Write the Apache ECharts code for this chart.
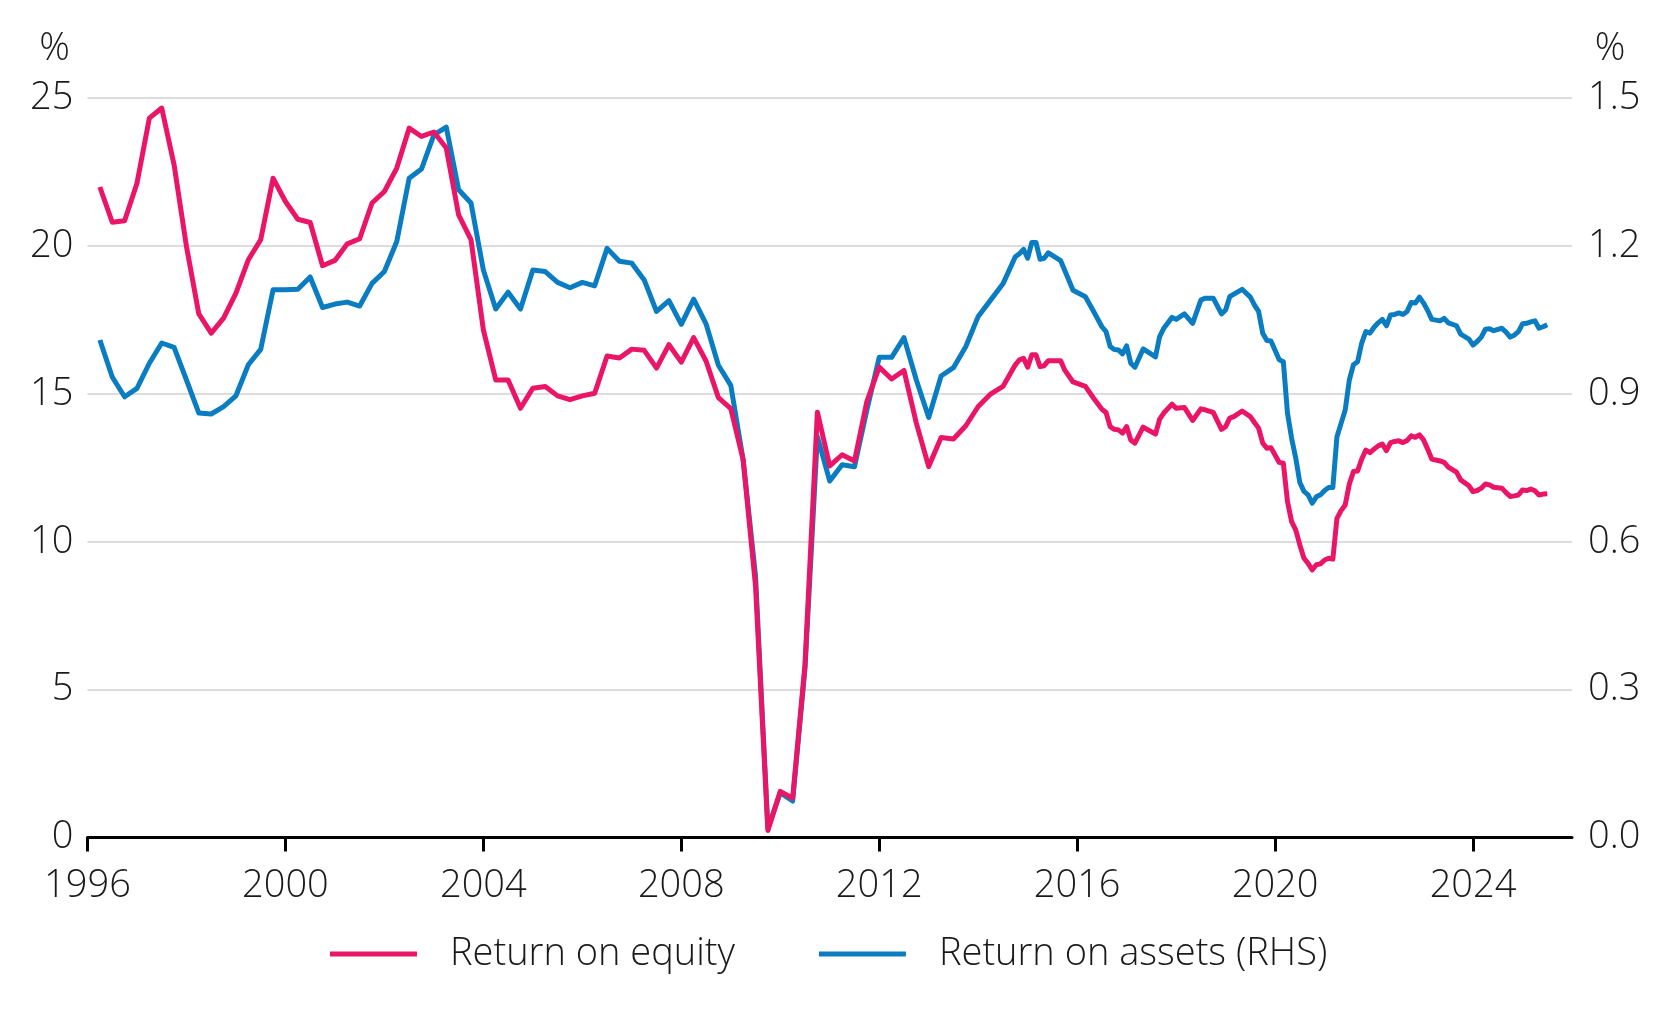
<!DOCTYPE html>
<html>
<head>
<meta charset="utf-8">
<script src="https://cdn.jsdelivr.net/npm/echarts@6/dist/echarts.min.js"></script>
<style>
html,body{margin:0;padding:0;background:#fff;}
#chart{width:1673px;height:1021px;}
</style>
</head>
<body>
<div id="chart"></div>
<script>
// ---------- DATA ----------
const xTickYears = [1996, 2000, 2004, 2008, 2012, 2016, 2020, 2024];
const leftAxisMax = 25, leftAxisStep = 5;
const rightAxisMax = 1.5, rightAxisStep = 0.3;
const seriesNames = ['Return on equity', 'Return on assets (RHS)'];

const dates = [
  '1996-03','1996-06','1996-09','1996-12',
  '1997-03','1997-06','1997-09','1997-12',
  '1998-03','1998-06','1998-09','1998-12',
  '1999-03','1999-06','1999-09','1999-12',
  '2000-03','2000-06','2000-09','2000-12',
  '2001-03','2001-06','2001-09','2001-12',
  '2002-03','2002-06','2002-09','2002-12',
  '2003-03','2003-06','2003-09','2003-12',
  '2004-03','2004-06','2004-09','2004-12',
  '2005-03','2005-06','2005-09','2005-12',
  '2006-03','2006-06','2006-09','2006-12',
  '2007-03','2007-06','2007-09','2007-12',
  '2008-03','2008-06','2008-09','2008-12',
  '2009-03','2009-06','2009-09','2009-12',
  '2010-03','2010-06','2010-09','2010-12',
  '2011-03','2011-06','2011-09','2011-12',
  '2012-03','2012-06','2012-09','2012-12',
  '2013-03','2013-06','2013-09','2013-12',
  '2014-03','2014-06',
  '2014-09','2014-10','2014-11','2014-12',
  '2015-01','2015-02','2015-03','2015-04','2015-05','2015-08','2015-09','2015-11',
  '2016-02','2016-04','2016-06','2016-07','2016-08','2016-09','2016-10','2016-11','2016-12',
  '2017-01','2017-02','2017-04','2017-07','2017-08','2017-09','2017-11','2017-12',
  '2018-02','2018-04','2018-06','2018-07','2018-09','2018-11','2018-12',
  '2019-01','2019-02','2019-04','2019-06','2019-07','2019-08','2019-09','2019-10','2019-11',
  '2020-01','2020-02','2020-03','2020-04','2020-05','2020-06','2020-07','2020-08','2020-09','2020-10','2020-11','2020-12',
  '2021-01','2021-02','2021-03','2021-04','2021-05','2021-06','2021-07','2021-08','2021-09','2021-10','2021-11','2021-12',
  '2022-01','2022-02','2022-03','2022-04','2022-05','2022-06','2022-07','2022-08','2022-09','2022-10','2022-11','2022-12',
  '2023-01','2023-02','2023-04','2023-05','2023-06','2023-08','2023-09','2023-11','2023-12',
  '2024-01','2024-02','2024-03','2024-04','2024-05','2024-07','2024-08','2024-09','2024-10','2024-11','2024-12',
  '2025-01','2025-02','2025-03','2025-04','2025-05','2025-06'
];

const returnOnEquity = [
  21.99, 20.8, 20.85, 22.12,
  24.32, 24.66, 22.74, 19.98,
  17.70, 17.05, 17.56, 18.40,
  19.53, 20.21, 22.29, 21.50,
  20.9, 20.79, 19.33, 19.51,
  20.07, 20.24, 21.45, 21.84,
  22.63, 23.98, 23.70, 23.85,
  23.31, 21.05, 20.21, 17.16,
  15.47, 15.47, 14.51, 15.19,
  15.25, 14.93, 14.80, 14.93,
  15.02, 16.28, 16.21, 16.51,
  16.47, 15.87, 16.66, 16.07,
  16.90, 16.11, 14.87, 14.50,
  12.77, 8.50, 0.24, 1.56,
  1.33, 5.86, 14.38, 12.56,
  12.94, 12.73, 14.74, 15.90,
  15.50, 15.79, 14.01, 12.54,
  13.52, 13.47, 13.92, 14.57,
  14.99, 15.25,
  15.98, 16.15, 16.2, 15.90,
  16.32, 16.32, 15.92, 15.95, 16.12, 16.12, 15.8, 15.4,
  15.25, 14.85, 14.48, 14.37, 13.89, 13.80, 13.78, 13.67, 13.89,
  13.44, 13.33, 13.87, 13.64, 14.14, 14.35, 14.65, 14.51,
  14.54, 14.10, 14.49, 14.46, 14.37, 13.80, 13.89,
  14.18, 14.23, 14.42, 14.23, 14.03, 13.84, 13.33, 13.16, 13.18,
  12.68, 12.65, 11.36, 10.68, 10.40, 9.89, 9.44, 9.27, 9.05, 9.22, 9.25, 9.38,
  9.44, 9.41, 10.79, 11.05, 11.24, 11.95, 12.37, 12.39, 12.79, 13.10, 13.01, 13.13,
  13.24, 13.30, 13.08, 13.35, 13.39, 13.41, 13.35, 13.42, 13.58, 13.53, 13.61, 13.44,
  13.13, 12.79, 12.73, 12.68, 12.52, 12.35, 12.09, 11.89, 11.69,
  11.73, 11.81, 11.95, 11.92, 11.84, 11.81, 11.66, 11.53, 11.55, 11.58, 11.75,
  11.73, 11.78, 11.72, 11.58, 11.61, 11.62
];

const returnOnAssets = [
  1.009, 0.934, 0.894, 0.911,
  0.962, 1.003, 0.994, 0.928,
  0.861, 0.859, 0.874, 0.896,
  0.959, 0.990, 1.111, 1.111,
  1.112, 1.137, 1.075, 1.082,
  1.086, 1.078, 1.124, 1.148,
  1.209, 1.337, 1.356, 1.425,
  1.441, 1.314, 1.287, 1.151,
  1.072, 1.106, 1.072, 1.151,
  1.148, 1.126, 1.115, 1.126,
  1.119, 1.195, 1.169, 1.165,
  1.131, 1.067, 1.089, 1.041,
  1.092, 1.042, 0.958, 0.917,
  0.766, 0.531, 0.018, 0.091,
  0.074, 0.343, 0.813, 0.723,
  0.756, 0.752, 0.867, 0.974,
  0.974, 1.014, 0.928, 0.852,
  0.936, 0.953, 0.996, 1.057,
  1.090, 1.123,
  1.178, 1.184, 1.193, 1.175,
  1.207, 1.207, 1.173, 1.175, 1.186, 1.170, 1.150, 1.110,
  1.097, 1.067, 1.036, 1.026, 0.996, 0.990, 0.989, 0.981, 0.997,
  0.962, 0.954, 0.991, 0.975, 1.016, 1.033, 1.055, 1.051,
  1.062, 1.043, 1.090, 1.094, 1.094, 1.062, 1.070,
  1.097, 1.102, 1.112, 1.096, 1.080, 1.067, 1.023, 1.008, 1.007,
  0.969, 0.965, 0.861, 0.810, 0.770, 0.720, 0.702, 0.695, 0.678, 0.691, 0.695, 0.704,
  0.710, 0.710, 0.813, 0.840, 0.867, 0.928, 0.959, 0.965, 1.003, 1.026, 1.023, 1.035,
  1.044, 1.051, 1.038, 1.060, 1.061, 1.064, 1.061, 1.067, 1.085, 1.084, 1.096, 1.084,
  1.069, 1.051, 1.048, 1.053, 1.044, 1.038, 1.021, 1.011, 0.999,
  1.006, 1.015, 1.031, 1.032, 1.028, 1.033, 1.025, 1.015, 1.019, 1.026, 1.042,
  1.043, 1.046, 1.048, 1.033, 1.036, 1.040
];

// ---------- CHART ----------
function toYear(s) { const p = s.split('-').map(Number); return p[0] + p[1] / 12; }
const roeData = dates.map((d, i) => [toYear(d), returnOnEquity[i]]);
const roaData = dates.map((d, i) => [toYear(d), returnOnAssets[i]]);

const FONT = "'Open Sans', 'Noto Sans', sans-serif";
const TXT = '#1a1a1a';
const PINK = '#EB1567';
const BLUE = '#0A7CC2';
const FS = 38;

const chart = echarts.init(document.getElementById('chart'), null, { renderer: 'canvas' });
chart.setOption({
  animation: false,
  backgroundColor: '#fff',
  textStyle: { fontFamily: FONT, fontWeight: 300, color: TXT },
  grid: { left: 87.5, right: 101, top: 98, bottom: 183.5, containLabel: false, outerBoundsMode: 'none' },
  legend: {
    data: seriesNames,
    left: 325, top: 930,
    icon: 'rect', itemWidth: 87, itemHeight: 5, itemGap: 84,
    textStyle: { fontFamily: FONT, fontWeight: 300, fontSize: FS, color: TXT, padding: [0, 0, 0, 28] }
  },
  xAxis: {
    type: 'value', min: 1996, max: 2026,
    axisLine: { show: true, lineStyle: { color: '#000', width: 3 } },
    axisTick: { show: true, customValues: xTickYears, length: 14, lineStyle: { color: '#000', width: 3 } },
    axisLabel: { customValues: xTickYears, margin: 30, fontFamily: FONT, fontWeight: 300, fontSize: FS, color: TXT, formatter: v => String(v) },
    splitLine: { show: false }
  },
  yAxis: [
    {
      type: 'value', min: 0, max: leftAxisMax, interval: leftAxisStep, position: 'left',
      name: '%', nameLocation: 'end', nameGap: 30,
      nameTextStyle: { fontFamily: FONT, fontWeight: 300, fontSize: FS, color: TXT, align: 'center', padding: [0, 66, 0, 0] },
      axisLine: { show: false }, axisTick: { show: false },
      axisLabel: { margin: 14, fontFamily: FONT, fontWeight: 300, fontSize: FS, color: TXT },
      splitLine: { show: true, lineStyle: { color: '#dddddd', width: 2 } }
    },
    {
      type: 'value', min: 0, max: rightAxisMax, interval: rightAxisStep, position: 'right',
      name: '%', nameLocation: 'end', nameGap: 30,
      nameTextStyle: { fontFamily: FONT, fontWeight: 300, fontSize: FS, color: TXT, align: 'center', padding: [0, 0, 0, 76] },
      axisLine: { show: false }, axisTick: { show: false },
      axisLabel: { margin: 16, fontFamily: FONT, fontWeight: 300, fontSize: FS, color: TXT, formatter: v => v.toFixed(1) },
      splitLine: { show: false }
    }
  ],
  series: [
    {
      name: seriesNames[1], type: 'line', yAxisIndex: 1, data: roaData,
      showSymbol: false, symbol: 'none', z: 2,
      lineStyle: { color: BLUE, width: 5, join: 'round' }, itemStyle: { color: BLUE }
    },
    {
      name: seriesNames[0], type: 'line', yAxisIndex: 0, data: roeData,
      showSymbol: false, symbol: 'none', z: 3,
      lineStyle: { color: PINK, width: 5, join: 'round' }, itemStyle: { color: PINK }
    }
  ]
});
</script>
</body>
</html>
